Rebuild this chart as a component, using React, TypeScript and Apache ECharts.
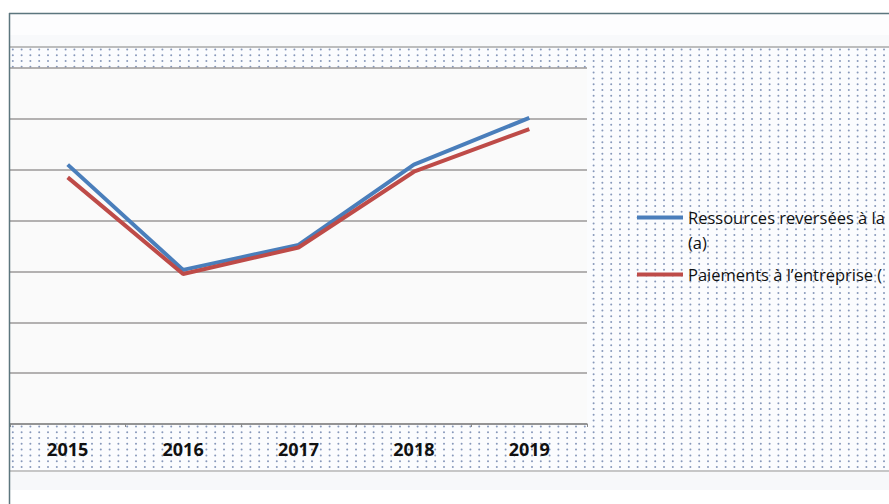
import React, { useEffect, useRef } from "react";
import * as echarts from "echarts";

const years = ["2015", "2016", "2017", "2018", "2019"];
const ressources = [5.1, 3.03, 3.52, 5.1, 6.02];
const paiements = [4.85, 2.95, 3.47, 4.96, 5.8];
const seriesNames = ["Ressources reversées à la", "Paiements à l’entreprise ("];
const legendLabels = ["\nRessources reversées à la\n(a)", "Paiements à l’entreprise ("];
const yTicks = [0, 1, 2, 3, 4, 5, 6, 7];

function makeDots(): HTMLCanvasElement {
  const c = document.createElement("canvas");
  c.width = 44;
  c.height = 29;
  const ctx = c.getContext("2d")!;
  ctx.fillStyle = "#fbfcfe";
  ctx.fillRect(0, 0, 44, 29);
  ctx.fillStyle = "#8798ba";
  for (let i = 0; i < 5; i++) {
    for (let j = 0; j < 5; j++) {
      ctx.beginPath();
      ctx.arc(i * 8.8 + 4, j * 5.8 + 3, 1.0, 0, Math.PI * 2);
      ctx.fill();
    }
  }
  return c;
}

export default function App() {
  const ref = useRef<HTMLDivElement>(null);
  useEffect(() => {
    if (!ref.current) return;
    const chart = echarts.init(ref.current, null, { renderer: "svg" });
    const dots = makeDots();
    const font = "'Open Sans', sans-serif";
    chart.setOption({
      animation: false,
      backgroundColor: "#ffffff",
      graphic: [
        { type: "rect", z: -10, silent: true, shape: { x: 10, y: 14, width: 879, height: 33 }, style: { fill: "#fdfdfe" } },
        { type: "rect", z: -10, silent: true, shape: { x: 10, y: 35, width: 879, height: 12 }, style: { fill: "#f8f9fb" } },
        {
          type: "rect", z: -9, silent: true,
          shape: { x: 10, y: 47, width: 879, height: 424 },
          style: { fill: { image: dots, repeat: "repeat", imageWidth: 44, imageHeight: 29 } as any },
        },
        { type: "rect", z: -9, silent: true, shape: { x: 10, y: 472, width: 879, height: 18 }, style: { fill: "#f7f8fa" } },
        { type: "line", z: 5, silent: true, shape: { x1: 10, y1: 47, x2: 889, y2: 47 }, style: { stroke: "#a9a9a9", lineWidth: 1.5 } },
        { type: "line", z: 5, silent: true, shape: { x1: 10, y1: 471, x2: 889, y2: 471 }, style: { stroke: "#b5b5b5", lineWidth: 1.5 } },
        { type: "line", z: 6, silent: true, shape: { x1: 9.5, y1: 13, x2: 9.5, y2: 504 }, style: { stroke: "#5c767e", lineWidth: 1.5 } },
        { type: "line", z: 6, silent: true, shape: { x1: 9, y1: 13.5, x2: 889, y2: 13.5 }, style: { stroke: "#5c767e", lineWidth: 1.5 } },
      ],
      grid: {
        left: 10, right: 302, top: 68, bottom: 80,
        show: true, backgroundColor: "#fafafa", borderWidth: 0,
      },
      xAxis: {
        type: "category",
        data: years,
        boundaryGap: true,
        axisLine: { lineStyle: { color: "#8a8a8a", width: 1.5 } },
        axisTick: { show: true, length: 3, lineStyle: { color: "#8a8a8a" } },
        axisLabel: { color: "#111", fontFamily: font, fontSize: 18, fontWeight: "bold", margin: 16 },
      },
      yAxis: {
        type: "value",
        min: yTicks[0],
        max: yTicks[yTicks.length - 1],
        interval: 1,
        axisLabel: { show: false },
        axisLine: { show: false },
        axisTick: { show: false },
        splitLine: { lineStyle: { color: "#9b9898", width: 1.5 } },
      },
      legend: [
        {
          data: [seriesNames[0]],
          orient: "vertical", left: 637, top: 180, padding: 0,
          icon: "rect", itemWidth: 46, itemHeight: 4,
          formatter: () => legendLabels[0],
          textStyle: { color: "#111", fontFamily: font, fontSize: 16.5, lineHeight: 25 },
        },
        {
          data: [seriesNames[1]],
          orient: "vertical", left: 637, top: 262, padding: 0,
          icon: "rect", itemWidth: 46, itemHeight: 4,
          formatter: () => legendLabels[1],
          textStyle: { color: "#111", fontFamily: font, fontSize: 16.5, lineHeight: 25 },
        },
      ],
      series: [
        {
          name: seriesNames[0], type: "line", data: ressources,
          showSymbol: false, symbol: "none",
          lineStyle: { color: "#4a7ebb", width: 4 }, itemStyle: { color: "#4a7ebb" },
        },
        {
          name: seriesNames[1], type: "line", data: paiements,
          showSymbol: false, symbol: "none",
          lineStyle: { color: "#be4b48", width: 4 }, itemStyle: { color: "#be4b48" },
        },
      ],
    });
    return () => chart.dispose();
  }, []);
  return (
    <div
      ref={ref}
      style={{ position: "fixed", left: 0, top: 0, width: 889, height: 504, background: "#fff" }}
    />
  );
}
